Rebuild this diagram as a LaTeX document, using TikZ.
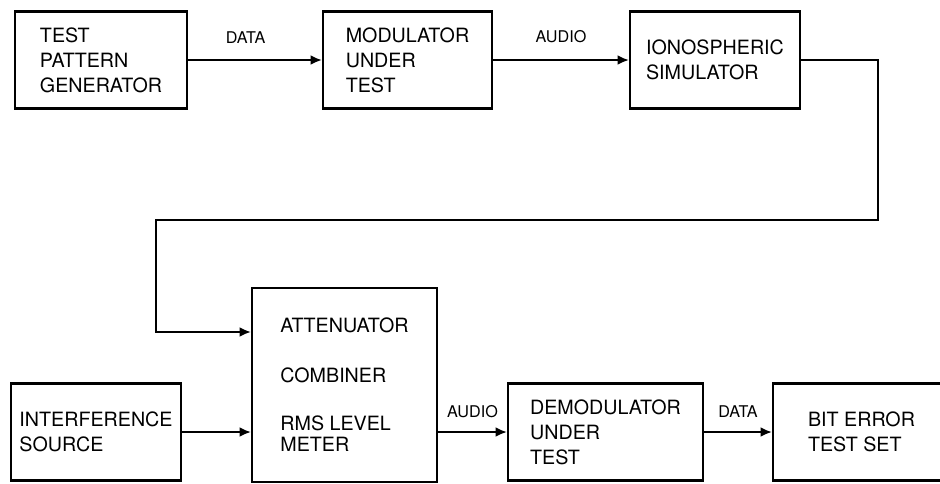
\documentclass[tikz,border=0pt]{standalone}
\usepackage{fontspec}
\setmainfont{TeX Gyre Heros}
\usetikzlibrary{arrows.meta}

\begin{document}
\begin{tikzpicture}[x=0.025cm,y=-0.025cm,
    block/.style={draw,line width=1.6pt,minimum height=2.425cm,align=left,
      inner sep=0pt,font=\fontsize{14}{17.8}\selectfont},
    signal/.style={line width=1.3pt,-{Latex[length=8pt,width=7pt]}},
    tag/.style={inner sep=0pt,font=\fontsize{11.5}{13}\selectfont}]

\clip (0,0) rectangle (940,483);

\node[block,minimum width=4.3cm] (tpg) at (101,60) {TEST\\PATTERN\\GENERATOR};
\node[block,minimum width=4.225cm] (mod) at (407.5,60) {MODULATOR\\UNDER\\TEST};
\node[block,minimum width=4.25cm] (ion) at (715,60) {IONOSPHERIC\\SIMULATOR};
\node[block,minimum width=4.625cm,minimum height=4.85cm] (att) at (344.5,385)
  {ATTENUATOR\\[0.62cm]COMBINER\\[0.58cm]RMS LEVEL\\[-0.1cm]METER};
\node[block,minimum width=4.25cm] (intf) at (96,432) {INTERFERENCE\\SOURCE};
\node[block,minimum width=4.875cm] (demod) at (605.5,432) {DEMODULATOR\\UNDER\\TEST};
\node[block,minimum width=4.425cm] (bert) at (861.5,432) {BIT ERROR\\TEST SET};

\coordinate (c1) at (878,220);
\coordinate (c2) at (156,220);

\draw[signal] (tpg.east) -- node[tag,pos=0.43,above=0.4cm] {DATA} (mod.west);
\draw[signal] (mod.east) -- node[tag,above=0.4cm] {AUDIO} (ion.west);
\draw[signal] (ion.east) -| (c1) -- (c2) |- ([yshift=1.325cm]att.west);
\draw[signal] (intf.east) -- (intf.east -| att.west);
\draw[signal] (demod.west -| att.east) -- node[tag,above=0.33cm] {AUDIO} (demod.west);
\draw[signal] (demod.east) -- node[tag,above=0.33cm] {DATA} (bert.west);
\end{tikzpicture}
\end{document}
